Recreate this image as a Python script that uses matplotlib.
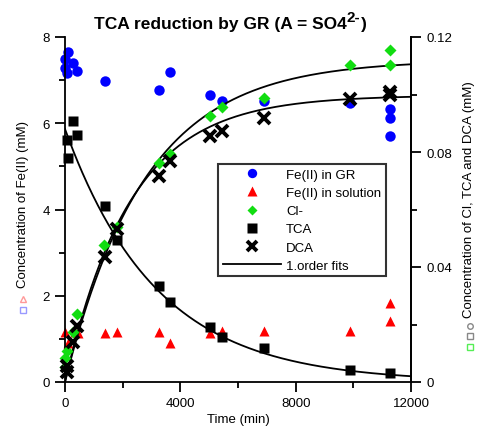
import numpy as np
import matplotlib
matplotlib.use('Agg')
import matplotlib.pyplot as plt
from matplotlib.lines import Line2D

plt.rcParams['font.family'] = ['Liberation Sans', 'DejaVu Sans']

# Fe(II) in GR (left axis, mM)
t_gr = [0, 0, 60, 100, 290, 430, 1400, 3250, 3650, 5030, 5430, 6900, 9900, 11280, 11280, 11280]
fe_gr = [7.49, 7.28, 7.16, 7.65, 7.40, 7.22, 6.99, 6.77, 7.18, 6.66, 6.52, 6.51, 6.47, 6.33, 6.12, 5.70]

# Fe(II) in solution (left axis, mM)
t_sol = [0, 100, 350, 460, 1400, 1800, 3250, 3650, 5030, 5430, 6900, 9900, 11280, 11280]
fe_sol = [1.15, 0.90, 1.15, 1.13, 1.13, 1.15, 1.15, 0.90, 1.13, 1.18, 1.19, 1.19, 1.83, 1.41]

# Cl- (right axis, mM)
t_cl = [0, 0, 60, 290, 430, 1350, 1800, 3250, 3650, 5030, 5430, 6900, 9900, 11280, 11280]
cl = [0.0051, 0.0082, 0.0109, 0.0173, 0.0237, 0.0478, 0.0538, 0.0761, 0.0793, 0.0926, 0.0955,
      0.0987, 0.1103, 0.1103, 0.1155]

# TCA (right axis, mM)
t_tca = [60, 100, 290, 430, 1400, 1800, 3250, 3650, 5030, 5430, 6900, 9900, 11280]
tca = [0.0843, 0.0778, 0.0907, 0.0859, 0.0611, 0.0495, 0.0333, 0.0279, 0.0190, 0.0158,
       0.0117, 0.0042, 0.0030]

# DCA (right axis, mM)
t_dca = [60, 60, 290, 430, 1400, 1800, 3250, 3650, 5030, 5430, 6900, 9900, 11280, 11280]
dca = [0.0036, 0.0057, 0.0140, 0.0196, 0.0434, 0.0532, 0.0718, 0.0770, 0.0855, 0.0874,
       0.0917, 0.0984, 0.1008, 0.0998]

# first order fit parameters (C0 / Cmax in mM, k in 1/min)
tca_c0, tca_k = 0.088, 3.15e-4
cl_cmax, cl_k = 0.112, 3.6e-4
dca_cmax, dca_k = 0.0997, 4.4e-4

blue = '#0000ff'
red = '#ff0000'
green = '#11dd11'

fig = plt.figure(figsize=(4.78, 4.31), dpi=100)
ax = fig.add_axes([65/478, 48/431, 346/478, 345/431])
ax2 = ax.twinx()

tf = np.linspace(0, 12000, 400)
ax2.plot(tf, tca_c0*np.exp(-tca_k*tf), color='k', lw=1.3, zorder=2)
ax2.plot(tf, cl_cmax*(1-np.exp(-cl_k*tf)), color='k', lw=1.3, zorder=2)
ax2.plot(tf, dca_cmax*(1-np.exp(-dca_k*tf)), color='k', lw=1.3, zorder=2)

h1, = ax.plot(t_gr, fe_gr, 'o', color=blue, ms=7.5, mec='none', clip_on=False, label='Fe(II) in GR')
h2, = ax.plot(t_sol, fe_sol, '^', color=red, ms=7.5, mec='none', clip_on=False, label='Fe(II) in solution')
h3, = ax2.plot(t_cl, cl, 'D', color=green, ms=6, mec='none', clip_on=False, label='Cl-', zorder=3)
h4, = ax2.plot(t_tca, tca, 's', color='k', ms=7.5, mec='none', clip_on=False, label='TCA', zorder=3)
h5, = ax2.plot(t_dca, dca, 'x', color='k', ms=8, mew=2.8, clip_on=False, label='DCA', zorder=4)
h6 = Line2D([], [], color='k', lw=1.3, label='1.order fits')

ax.set_xlim(0, 12000)
ax.set_ylim(0, 8)
ax2.set_ylim(0, 0.12)
ax.set_xticks([0, 4000, 8000, 12000])
ax.set_xticks([2000, 6000, 10000], minor=True)
ax.set_yticks([0, 2, 4, 6, 8])
ax.set_yticks([1, 3, 5, 7], minor=True)
ax2.set_yticks([0, 0.04, 0.08, 0.12])
ax2.set_yticklabels(['0', '0.04', '0.08', '0.12'])
ax2.set_yticks([0.02, 0.06, 0.10], minor=True)

for a in (ax, ax2):
    a.spines['top'].set_visible(False)
    for s in a.spines.values():
        s.set_linewidth(1.3)
    a.tick_params(which='major', direction='out', length=7, width=1.3, labelsize=9.5, pad=4)
    a.tick_params(which='minor', direction='out', length=4, width=1.3)
ax2.spines['left'].set_visible(False)
ax2.spines['bottom'].set_visible(False)

ax.set_xlabel('Time (min)', fontsize=9.5, labelpad=3)

# title with a full-size raised "2-"
ty = 1 - 24/431
t1 = fig.text(0.5 - 0.04, ty, 'TCA reduction by GR (A = SO4', ha='center', va='center',
              fontsize=12.5, fontweight='bold')
fig.canvas.draw()
bb = t1.get_window_extent()
sup = fig.text(bb.x1/478 + 0.001, ty + 0.013, '2-', ha='left', va='center', fontsize=11,
               fontweight='bold')
fig.canvas.draw()
bb2 = sup.get_window_extent()
fig.text(bb2.x1/478 + 0.002, ty, ')', ha='left', va='center', fontsize=12.5, fontweight='bold')

fig.text(23/478, 1-288/431, 'Concentration of Fe(II) (mM)', rotation=90, ha='center', va='bottom',
         fontsize=9.5)
fig.text(469/478, 1-318/431, 'Concentration of Cl, TCA and DCA (mM)', rotation=90, ha='center',
         va='bottom', fontsize=9.5)

# small legend glyphs in the axis labels
for (x, y, m, c) in [(23, 300, '^', '#ff9999'), (23, 311, 's', '#9999ff')]:
    fig.add_artist(Line2D([x/478], [1-y/431], marker=m, ms=4, mfc='none', mec=c, mew=1,
                          transform=fig.transFigure))
for (x, y, m, c) in [(470, 327, 'o', '#888888'), (470, 337, 's', '#888888'), (470, 348, 's', '#55ee55')]:
    fig.add_artist(Line2D([x/478], [1-y/431], marker=m, ms=4, mfc='none', mec=c, mew=1,
                          transform=fig.transFigure))

leg = ax2.legend(handles=[h1, h2, h3, h4, h5, h6], loc='upper left',
                 bbox_to_anchor=((218-65)/346, (383-165)/345), borderaxespad=0,
                 fontsize=9.5, frameon=True, fancybox=False, edgecolor='k',
                 handlelength=4.4, handletextpad=0.4, labelspacing=0.45, borderpad=0.35,
                 markerscale=0.9)
leg.get_frame().set_linewidth(1.5)
leg.set_zorder(10)

fig.savefig('out.png', dpi=100)
